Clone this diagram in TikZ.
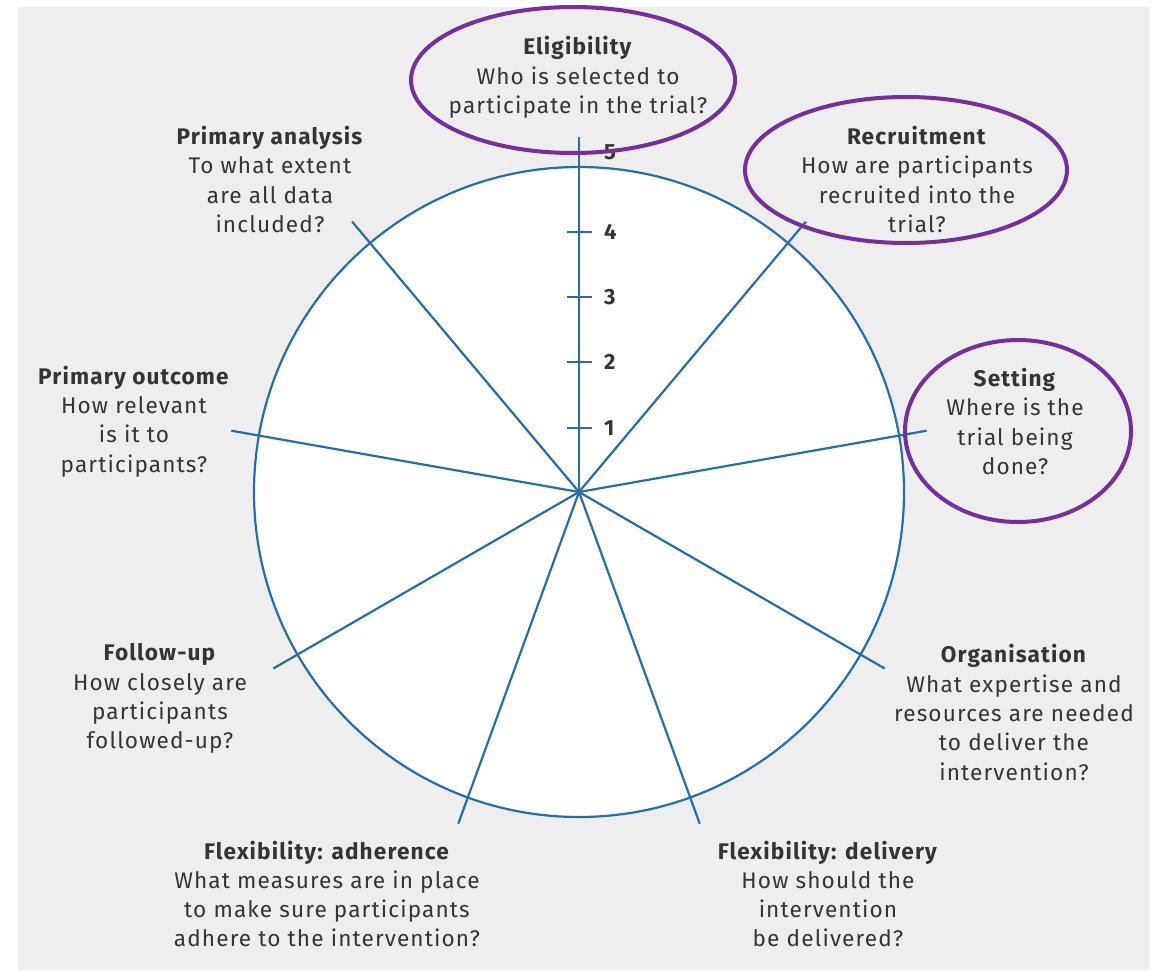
\documentclass[tikz,border=0pt]{standalone}
\usepackage{fontspec}
\setmainfont{Fira Sans}[LetterSpace=5]
\definecolor{bggray}{HTML}{EEEEEE}
\definecolor{wheelblue}{HTML}{2A6CA3}
\definecolor{markpurple}{HTML}{7030A0}
\definecolor{txtgray}{HTML}{343434}
\begin{document}
\begin{tikzpicture}[x=1pt,y=1pt,
  spoke/.style={draw=wheelblue,line width=2.2pt},
  lbl/.style={text=txtgray,align=center,inner sep=0pt,font=\fontsize{22.6}{29.3}\selectfont},
  num/.style={text=txtgray,inner sep=0pt,anchor=west,font=\fontsize{22}{24}\selectfont\bfseries},
  hilite/.style={draw=markpurple,line width=4pt}]
\useasboundingbox (-579,492) rectangle (582,-478);
\fill[bggray] (-561,485) rectangle (570,-478);
\coordinate (c) at (0,0);
\filldraw[fill=white,draw=wheelblue,line width=2.2pt] (c) circle (325);
% spokes
\foreach \a/\n in {50/rec,10/set,-30/org,-70/fdl,-110/fad,-150/fol,170/pou,130/pan}{
  \coordinate (\n) at (\a:353);
  \draw[spoke] (c) -- (\n);
}
% axis
\coordinate (ax) at (0,355);
\draw[spoke] (c) -- (ax);
\foreach \k/\y in {1/64,2/130,3/195,4/260}{
  \coordinate (t\k) at (0,\y);
  \draw[spoke] ([xshift=-12pt]t\k) -- ([xshift=13pt]t\k);
  \node[num] (n\k) at ([xshift=25pt]t\k) {\k};
}
\node[num] (n5) at (25,340) {5};
% labels
\node[lbl] (Lelig) at (-1,414.5) {\textbf{Eligibility}\\Who is selected to\\participate in the trial?};
\node[lbl] (Lrec) at (338,312.5) {\textbf{Recruitment}\\How are participants\\recruited into the\\trial?};
\node[lbl] (Lset) at (436,70.5) {\textbf{Setting}\\Where is the\\trial being\\done?};
\node[lbl] (Lorg) at (435,-220.5) {\textbf{Organisation}\\What expertise and\\resources are needed\\to deliver the\\intervention?};
\node[lbl] (Lfdl) at (249,-402) {\textbf{Flexibility: delivery}\\How should the\\intervention\\be delivered?};
\node[lbl] (Lfad) at (-252,-402) {\textbf{Flexibility: adherence}\\What measures are in place\\to make sure participants\\adhere to the intervention?};
\node[lbl] (Lfol) at (-419,-206.5) {\textbf{Follow-up}\\How closely are\\participants\\followed-up?};
\node[lbl] (Lpou) at (-445,70.5) {\textbf{Primary outcome}\\How relevant\\is it to\\participants?};
\node[lbl] (Lpan) at (-309,312.5) {\textbf{Primary analysis}\\To what extent\\are all data\\included?};
% highlight ellipses
\draw[hilite] (-6,412) ellipse [x radius=162, y radius=73];
\draw[hilite] (327,322) ellipse [x radius=161, y radius=73];
\draw[hilite] (439,61) ellipse [x radius=113, y radius=91];
\end{tikzpicture}
\end{document}
